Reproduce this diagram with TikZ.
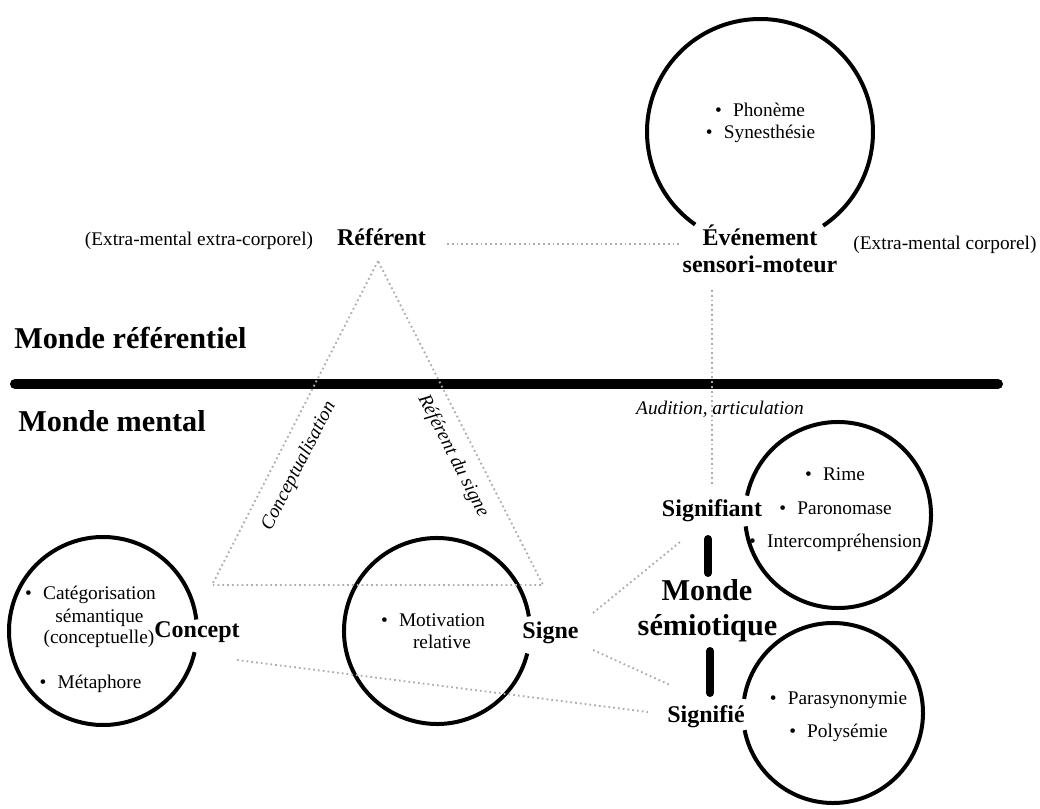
\documentclass[tikz,border=0pt]{standalone}
\usepackage{fontspec}
\setmainfont{Liberation Serif}
\newcommand\fworld{\fontsize{22.7}{26}\selectfont\bfseries}
\newcommand\flab{\fontsize{18}{21}\selectfont\bfseries}
\newcommand\ftxt{\fontsize{14.5}{17}\selectfont}
\tikzset{
  txt/.style={anchor=base, inner sep=0pt, font=\ftxt},
  itxt/.style={inner sep=0pt, font=\ftxt\itshape},
  lab/.style={anchor=base, inner sep=0pt, font=\flab},
  world/.style={anchor=base, inner sep=0pt, font=\fworld},
  bul/.style={anchor=base east, inner sep=0pt, font=\ftxt},
  ring/.style={line width=3pt},
  dotline/.style={draw=black!32, line width=1.4pt, dash pattern=on 1.3pt off 2.3pt},
  hbar/.style={line width=7.5pt, line cap=round},
  vbar/.style={line width=6pt, line cap=round}
}
\newcommand\bitem[4]{%
  \node[txt] (#1) at (#2,#3) {#4};
  \node[bul] (#1-b) at ([xshift=-8pt]#1.base west) {•};}
\begin{document}
\begin{tikzpicture}[x=0.75pt,y=-0.75pt]
\useasboundingbox (0,0) rectangle (1040,809);

% thick separator
\coordinate (bar-l) at (15,384);
\coordinate (bar-r) at (998,384);
\draw[hbar] (bar-l) -- (bar-r);

% world labels
\node[world, anchor=base west] (mref) at (14,349) {Monde référentiel};
\node[world, anchor=base west] (mment) at (18,432) {Monde mental};

% referent line
\node[txt] (extref) at (199,246) {(Extra-mental extra-corporel)};
\node[lab] (referent) at (381.5,246) {Référent};
\node[lab] (evt1) at (760,246) {Événement};
\node[lab] (evt2) at (760,273) {sensori-moteur};
\node[txt] (extcorp) at (945,250) {(Extra-mental corporel)};

% top circle
\draw[ring] (760,132) ++(125:113) arc[start angle=125, end angle=416, radius=113];
\bitem{phon}{769}{117}{Phonème}
\bitem{syn}{769.5}{139}{Synesthésie}

% Concept circle
\draw[ring] (103,631) ++(13:94) arc[start angle=13, end angle=353, radius=94];
\bitem{cat1}{99.5}{599}{Catégorisation}
\node[txt] (cat2) at (99.5,622) {sémantique};
\node[txt] (cat3) at (99,643) {(conceptuelle)};
\bitem{meta}{99.5}{688}{Métaphore}
\node[lab] (concept) at (197,637) {Concept};

% Signe circle
\draw[ring] (437,631) ++(14:93) arc[start angle=14, end angle=351, radius=93];
\bitem{motiv}{442}{626}{Motivation}
\node[txt] (rel) at (442,648) {relative};
\node[lab] (signe) at (550.5,638) {Signe};

% Signifiant circle
\draw[ring] (838,515) ++(192:93) arc[start angle=192, end angle=533, radius=93];
\node[lab] (signifiant) at (712,517) {Signifiant};
\bitem{rime}{844}{481}{Rime}
\bitem{paro}{844.5}{514}{Paronomase}
\bitem{inter}{844.5}{547}{Intercompréhension}

% Signifie circle
\draw[ring] (833,713) ++(189:90) arc[start angle=189, end angle=529, radius=90];
\node[lab] (signifie) at (706,722) {Signifié};
\bitem{parasyn}{847.5}{704}{Parasynonymie}
\bitem{polys}{847.5}{737}{Polysémie}

% Monde semiotique
\node[world] (monde) at (707,600) {Monde};
\node[world] (semio) at (707.5,635) {sémiotique};
\coordinate (vb1-t) at (708,539);
\coordinate (vb1-b) at (708,573);
\coordinate (vb2-t) at (710,651);
\coordinate (vb2-b) at (710,693);
\draw[vbar] (vb1-t) -- (vb1-b);
\draw[vbar] (vb2-t) -- (vb2-b);

% italic labels
\node[itxt, anchor=base] (audition) at (720,415) {Audition, articulation};
\node[itxt, rotate=62.9] (concl) at (299,466) {Conceptualisation};
\node[itxt, rotate=-62.9] (refsig) at (453,456) {Référent du signe};

% dotted connectors
\coordinate (ref-r) at (447,244);
\coordinate (evt-l) at (680,244);
\coordinate (tri-t) at (378,261);
\coordinate (tri-l) at (212,585);
\coordinate (tri-r) at (543,585);
\coordinate (evt-b) at (712,290);
\coordinate (sfiant-t) at (712,485);
\coordinate (signe-ur) at (593,613);
\coordinate (sfiant-l) at (680,542);
\coordinate (signe-lr) at (593,650);
\coordinate (sfie-ul) at (670,685);
\coordinate (concept-r) at (237,660);
\coordinate (sfie-l) at (648,712);

\draw[dotline] (ref-r) -- (evt-l);
\draw[dotline] (tri-t) -- (tri-l) -- (tri-r) -- cycle;
\draw[dotline] (evt-b) -- (sfiant-t);
\draw[dotline] (signe-ur) -- (sfiant-l);
\draw[dotline] (signe-lr) -- (sfie-ul);
\draw[dotline] (concept-r) -- (sfie-l);
\end{tikzpicture}
\end{document}
